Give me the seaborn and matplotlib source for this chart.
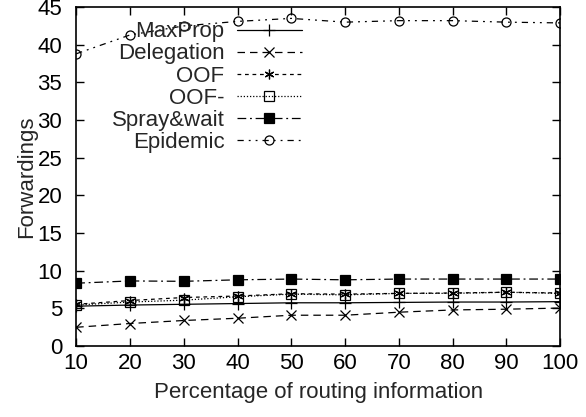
import matplotlib
matplotlib.use("Agg")
import matplotlib.pyplot as plt
import seaborn as sns

# data
pct = [10, 20, 30, 40, 50, 60, 70, 80, 90, 100]
maxprop = [5.3, 5.45, 5.55, 5.65, 5.75, 5.75, 5.8, 5.85, 5.85, 5.9]
delegation = [2.5, 3.0, 3.4, 3.7, 4.1, 4.1, 4.5, 4.8, 4.9, 5.05]
oof = [5.55, 6.05, 6.45, 6.65, 6.95, 6.9, 7.0, 7.05, 7.15, 7.05]
oof_minus = [5.45, 5.85, 6.1, 6.55, 6.9, 6.8, 7.0, 7.0, 7.15, 7.0]
spray = [8.35, 8.65, 8.6, 8.8, 8.9, 8.8, 8.9, 8.9, 8.9, 8.9]
epidemic = [38.8, 41.3, 42.5, 43.1, 43.5, 43.0, 43.2, 43.2, 43.0, 42.9]

sns.set_theme(style="ticks")
plt.rcParams['font.family'] = ['Liberation Sans', 'DejaVu Sans']
plt.rcParams['font.size'] = 16

fig = plt.figure(figsize=(5.86, 4.17), dpi=100)
ax = fig.add_axes([0.130, 0.170, 0.826, 0.813])

# name, values, linestyle, marker, size, filled
series = [
    ("MaxProp", maxprop, "-", "+", 8, True),
    ("Delegation", delegation, (0, (6, 4)), "x", 6.5, True),
    ("OOF", oof, (0, (3, 3)), (6, 2, 0), 7, True),
    ("OOF-", oof_minus, (0, (1, 1.5)), "s", 6.5, False),
    ("Spray&wait", spray, (0, (7, 3, 1.5, 3)), "s", 6.5, True),
    ("Epidemic", epidemic, (0, (5, 4, 1.5, 4, 1.5, 4)), "o", 6.5, False),
]

for name, vals, ls, mk, ms, filled in series:
    sns.lineplot(x=pct, y=vals, ax=ax, color="black", linewidth=0.9,
                 linestyle=ls, marker=mk, markersize=ms,
                 markeredgecolor="black", markeredgewidth=0.9,
                 markerfacecolor="black" if filled else "none",
                 label=name)

ax.set_xlim(10, 100)
ax.set_ylim(0, 45)
ax.set_xticks(pct)
ax.set_yticks(range(0, 46, 5))
ax.tick_params(direction="in", length=6, width=1, top=True, right=True,
               labelsize=16, colors="black")
ax.tick_params(axis="x", pad=5)
ax.tick_params(axis="y", pad=10)
for s in ax.spines.values():
    s.set_linewidth(1.2)
    s.set_color("black")
ax.set_xlabel("Percentage of routing information", fontsize=16, labelpad=6)
ax.set_ylabel("Forwardings", fontsize=16, labelpad=0)

leg = ax.legend(loc="upper right", bbox_to_anchor=(0.467, 0.958), frameon=False,
                markerfirst=False, handlelength=2.95, handletextpad=0.55,
                labelspacing=0.05, borderpad=0, borderaxespad=0, fontsize=16)

fig.savefig("out.png", dpi=100)
